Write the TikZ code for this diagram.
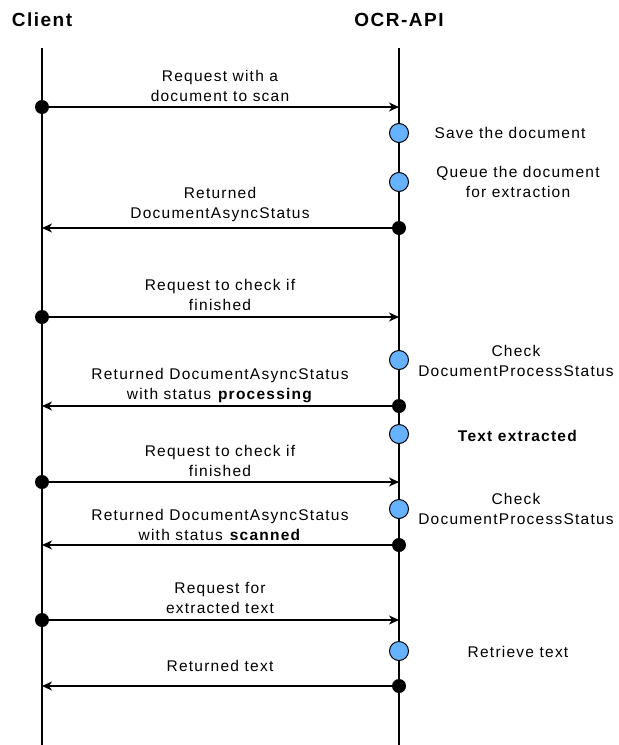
\documentclass[tikz,border=0pt]{standalone}
\usepackage{fontspec}
\setmainfont{Liberation Sans}[LetterSpace=8]
\usetikzlibrary{arrows.meta}
\definecolor{stepblue}{HTML}{66B2FF}
\begin{document}
\begin{tikzpicture}[x=1pt,y=-1pt,
  every node/.style={font=\fontsize{15.5}{20}\selectfont, inner sep=0pt},
  head/.style={font=\fontsize{19}{22}\selectfont\bfseries},
  lifeline/.style={line width=1.2pt},
  msg/.style={line width=1.3pt, -{Stealth[length=10pt,width=9pt,inset=3pt]}},
  srcdot/.style={circle, fill=black, minimum size=14pt},
  stepdot/.style={circle, draw=black, line width=1pt, fill=stepblue, minimum size=19pt},
  lbl/.style={align=center},
]
\useasboundingbox (0,0) rectangle (619,745);

% participants
\node[head] (client) at (42,20) {Client};
\node[head] (ocr) at (399,20) {OCR-API};
\coordinate (ctop) at (42,48);  \coordinate (cbot) at (42,745);
\coordinate (otop) at (399,48); \coordinate (obot) at (399,745);
\draw[lifeline] (ctop) -- (cbot);
\draw[lifeline] (otop) -- (obot);

% request 1
\node[srcdot] (s1) at (42,107) {};
\coordinate (t1) at (399,107);
\draw[msg] (s1.center) -- (t1);
\node[lbl] (l1) at (220,86) {Request with a\\document to scan};

% processing steps
\node[stepdot] (p1) at (399,133) {};
\node (q1) at (510,133) {Save the document};
\node[stepdot] (p2) at (399,182) {};
\node[lbl] (q2) at (518,182) {Queue the document\\for extraction};

% reply 1
\node[srcdot] (s2) at (399,228) {};
\coordinate (t2) at (42,228);
\draw[msg] (s2.center) -- (t2);
\node[lbl] (l2) at (220,204) {Returned\\DocumentAsyncStatus};

% request 2
\node[srcdot] (s3) at (42,317) {};
\coordinate (t3) at (399,317);
\draw[msg] (s3.center) -- (t3);
\node[lbl] (l3) at (220,295) {Request to check if\\finished};

\node[stepdot] (p3) at (399,360) {};
\node[lbl] (q3) at (516,361) {Check\\DocumentProcessStatus};

% reply 2
\node[srcdot] (s4) at (399,406) {};
\coordinate (t4) at (42,406);
\draw[msg] (s4.center) -- (t4);
\node[lbl] (l4) at (220,386) {Returned DocumentAsyncStatus\\with status \textbf{processing}};

\node[stepdot] (p4) at (399,434) {};
\node (q4) at (518,436) {\textbf{Text extracted}};

% request 3
\node[srcdot] (s5) at (42,482) {};
\coordinate (t5) at (399,482);
\draw[msg] (s5.center) -- (t5);
\node[lbl] (l5) at (220,461) {Request to check if\\finished};

\node[stepdot] (p5) at (399,509) {};
\node[lbl] (q5) at (516,509) {Check\\DocumentProcessStatus};

% reply 3
\node[srcdot] (s6) at (399,545) {};
\coordinate (t6) at (42,545);
\draw[msg] (s6.center) -- (t6);
\node[lbl] (l6) at (220,525) {Returned DocumentAsyncStatus\\with status \textbf{scanned}};

% request 4
\node[srcdot] (s7) at (42,620) {};
\coordinate (t7) at (399,620);
\draw[msg] (s7.center) -- (t7);
\node[lbl] (l7) at (220,598) {Request for\\extracted text};

\node[stepdot] (p6) at (399,651) {};
\node (q6) at (518,652) {Retrieve text};

% reply 4
\node[srcdot] (s8) at (399,686) {};
\coordinate (t8) at (42,686);
\draw[msg] (s8.center) -- (t8);
\node (l8) at (220,666) {Returned text};
\end{tikzpicture}
\end{document}
